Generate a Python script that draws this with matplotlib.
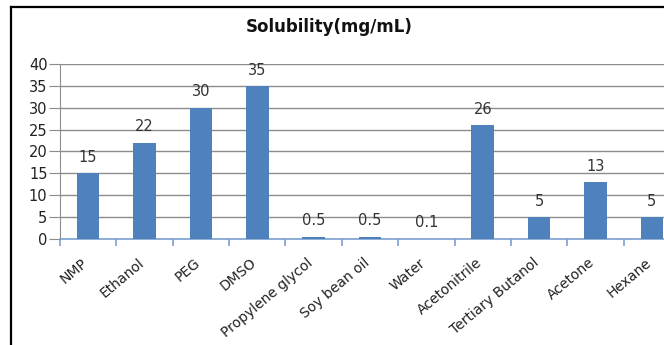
import matplotlib
matplotlib.use("Agg")
import matplotlib.pyplot as plt
import matplotlib.transforms as mtransforms
from matplotlib.lines import Line2D

solvents = ['NMP', 'Ethanol', 'PEG', 'DMSO', 'Propylene glycol', 'Soy bean oil',
            'Water', 'Acetonitrile', 'Tertiary Butanol', 'Acetone', 'Hexane']
solubility = [15, 22, 30, 35, 0.5, 0.5, 0.1, 26, 5, 13, 5]
labels = ['15', '22', '30', '35', '0.5', '0.5', '0.1', '26', '5', '13', '5']

W, H = 664, 345
fig = plt.figure(figsize=(W / 100, H / 100), dpi=100)
fig.patch.set_facecolor('white')

# plot area runs past the right edge, so the last bar is cut off
ax = fig.add_axes([60 / W, (H - 239) / H, 620 / W, 175 / H])
x = list(range(len(solvents)))
ax.bar(x, solubility, width=0.4, color='#4F81BD', zorder=3)

ax.set_xlim(-0.5, len(solvents) - 0.5)
ax.set_ylim(0, 40)
ax.set_yticks(range(0, 41, 5))
ax.yaxis.grid(True, color='#8c8c8c', linewidth=1.0, zorder=0)
ax.tick_params(axis='y', length=8, color='#8c8c8c', labelsize=10.5,
               labelcolor='#222222', pad=1)

ax.set_xticks(x)
ax.set_xticklabels(solvents, rotation=40, ha='right', va='top',
                   fontsize=10, color='#222222')
ax.tick_params(axis='x', which='major', length=0, pad=12)
shift = mtransforms.ScaledTranslation(2 / 100, 0, fig.dpi_scale_trans)
for lbl in ax.get_xticklabels():
    lbl.set_transform(lbl.get_transform() + shift)
ax.set_xticks([i - 0.5 for i in range(len(solvents) + 1)], minor=True)
ax.tick_params(axis='x', which='minor', length=5, color='#7ba0d0', width=1.2)

for side in ['top', 'right']:
    ax.spines[side].set_visible(False)
ax.spines['left'].set_color('#8c8c8c')
ax.spines['bottom'].set_color('#7ba0d0')
ax.spines['bottom'].set_linewidth(1.2)

for xi, v, s in zip(x, solubility, labels):
    ax.annotate(s, (xi, v), xytext=(0, 6), textcoords='offset points',
                ha='center', va='bottom', fontsize=10.5, color='#333333')

fig.text(329 / W, 1 - 27 / H, 'Solubility(mg/mL)', ha='center', va='center',
         fontsize=12, fontweight='bold', color='#111111')

# black frame on the left and top
fig.add_artist(Line2D([11 / W, 11 / W], [0, 1 - 7 / H], transform=fig.transFigure,
                      color='black', linewidth=1.6))
fig.add_artist(Line2D([11 / W, 1], [1 - 7 / H, 1 - 7 / H], transform=fig.transFigure,
                      color='black', linewidth=1.6))

fig.savefig('out.png', dpi=100)
